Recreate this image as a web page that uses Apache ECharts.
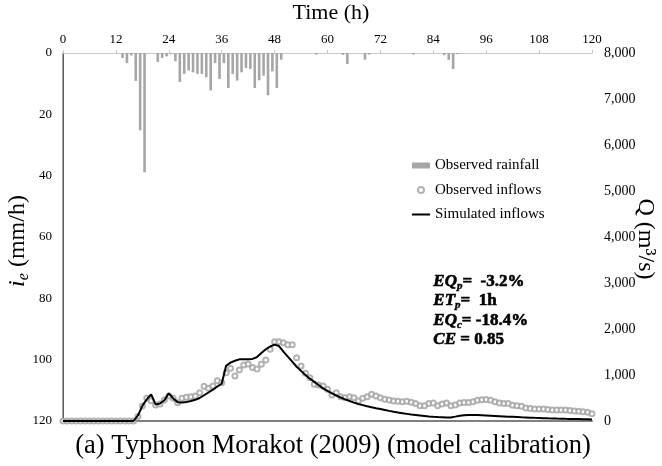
<!DOCTYPE html>
<html>
<head>
<meta charset="utf-8">
<title>Typhoon Morakot (2009) - model calibration</title>
<script src="https://cdn.jsdelivr.net/npm/echarts@6/dist/echarts.min.js"></script>
<style>
  html, body { margin: 0; padding: 0; background: #fff; }
  #chart { width: 662px; height: 466px; }
</style>
</head>
<body>
<div id="chart"></div>
<script>
// hourly rainfall (mm/h), hours 0..89, nothing after
const rainfall = [
  0, 0, 0, 0, 0, 0, 0, 0, 0, 0, 0, 0, 0, 1.6, 3.3, 0.8, 9.1, 25.2, 38.9, 0,
  0, 2.9, 1.6, 1.1, 0.4, 2.7, 9.4, 6.8, 5.7, 6.3, 6.8, 6.8, 7.9, 12.2, 3.3, 8.5, 3.3, 11.4, 6.8, 9.0,
  6.3, 4.9, 5.2, 11.4, 8.9, 7.4, 13.8, 6.0, 11.4, 2.2, 0, 0, 0, 0, 0, 0, 0, 0.5, 0, 0,
  0, 0, 0, 0.6, 3.6, 0, 0, 0, 2.2, 0.5, 0, 0, 0, 0, 0, 0, 0, 0, 0, 0.5,
  0, 0, 0, 0, 0, 0, 0.7, 2.2, 5.2, 0.4
];

// observed inflows (m3/s), hours 0..120
const observed = [
  0, 0, 0, 0, 0, 0, 0, 0, 0, 0, 0, 0, 0, 0, 0, 0, 0, 100, 326, 493,
  442, 348, 370, 457, 543, 493, 399, 493, 514, 529, 543, 616, 754, 710, 761, 877, 833, 1050, 1145, 978,
  1110, 1220, 1240, 1165, 1130, 1232, 1326, 1558, 1725, 1725, 1703, 1659, 1659, 1377, 1196, 1036, 942, 797, 783, 761,
  688, 565, 616, 529, 507, 529, 507, 435, 493, 529, 580, 543, 507, 471, 457, 435, 430, 420, 430, 410,
  380, 330, 330, 380, 390, 330, 370, 390, 330, 350, 390, 400, 400, 420, 450, 460, 470, 450, 420, 390,
  380, 380, 340, 330, 320, 280, 270, 260, 260, 260, 250, 240, 240, 240, 240, 230, 220, 210, 200, 190,
  160
];

// simulated inflows (m3/s), hours 0..120
const simulated = [
  0, 0, 0, 0, 0, 0, 0, 0, 0, 0, 0, 0, 0, 0, 0, 0, 0, 120, 330, 470,
  580, 360, 380, 450, 600, 490, 410, 400, 415, 435, 460, 500, 560, 620, 680, 750, 810, 1200, 1270, 1310,
  1340, 1345, 1345, 1350, 1390, 1480, 1560, 1620, 1660, 1630, 1510, 1400, 1290, 1180, 1090, 1000, 920, 850, 780, 710,
  655, 600, 555, 510, 470, 435, 400, 370, 345, 320, 297, 278, 260, 240, 220, 202, 185, 170, 155, 140,
  130, 120, 110, 100, 92, 85, 80, 75, 78, 95, 115, 125, 130, 130, 128, 125, 120, 115, 110, 105,
  100, 95, 90, 85, 80, 76, 72, 68, 65, 62, 58, 55, 52, 50, 47, 45, 43, 41, 39, 37,
  35
];

const timeTicks = [0, 12, 24, 36, 48, 60, 72, 84, 96, 108, 120];
const rainTicks = [0, 20, 40, 60, 80, 100, 120];
const flowTicks = [0, 1000, 2000, 3000, 4000, 5000, 6000, 7000, 8000];

// goodness-of-fit stats: symbol, subscript, value
const stats = [
  ['EQ', 'p', '=  -3.2%'],
  ['ET', 'p', '=  1h'],
  ['EQ', 'c', '= -18.4%'],
  ['CE', '', ' = 0.85']
];

const serif = '"Liberation Serif", "Times New Roman", serif';

const chart = echarts.init(document.getElementById('chart'));

const boldTok = { fill: '#000', stroke: '#000', lineWidth: 0.6 };
const statGraphics = stats.map(function (s, i) {
  let txt = '{m|' + s[0] + '}';
  if (s[1]) txt += '{s|' + s[1] + '}';
  txt += '{v|' + s[2] + '}';
  return {
    type: 'text',
    left: 433,
    top: 273 + i * 19.3,
    style: {
      text: txt,
      rich: {
        m: Object.assign({ fontFamily: serif, fontSize: 17, fontStyle: 'italic', fontWeight: 'bold', lineHeight: 20 }, boldTok),
        s: Object.assign({ fontFamily: serif, fontSize: 11, fontStyle: 'italic', fontWeight: 'bold', lineHeight: 11, verticalAlign: 'bottom' }, boldTok, { lineWidth: 0.4 }),
        v: Object.assign({ fontFamily: serif, fontSize: 17, fontWeight: 'bold', lineHeight: 20 }, boldTok)
      }
    }
  };
});

const option = {
  backgroundColor: '#fff',
  animation: false,
  grid: { left: 63, right: 70, top: 53, bottom: 45 },
  legend: {
    orient: 'vertical',
    left: 412,
    top: 158,
    padding: 0,
    itemWidth: 18,
    itemHeight: 6,
    itemGap: 9.5,
    textStyle: { fontFamily: serif, fontSize: 15, color: '#000' },
    data: [
      { name: 'Observed rainfall', icon: 'rect' },
      { name: 'Observed inflows' },
      { name: 'Simulated inflows', icon: 'path://M0,0L18,0L18,2L0,2Z' }
    ]
  },
  xAxis: [
    {
      type: 'value',
      position: 'top',
      min: 0,
      max: 120,
      interval: 12,
      axisLine: { show: true, lineStyle: { color: '#c8c8c8', width: 1 } },
      axisTick: { show: true, length: 3, lineStyle: { color: '#c8c8c8' } },
      axisLabel: {
        margin: 7,
        fontFamily: serif,
        fontSize: 13,
        color: '#000',
        customValues: timeTicks
      },
      splitLine: { show: false }
    },
    {
      type: 'value',
      position: 'bottom',
      min: 0,
      max: 120,
      interval: 12,
      axisLine: { show: true, onZero: false, lineStyle: { color: '#808080', width: 2 } },
      axisTick: { show: false },
      axisLabel: { show: false },
      splitLine: { show: false }
    }
  ],
  yAxis: [
    {
      type: 'value',
      position: 'left',
      inverse: true,
      min: 0,
      max: 120,
      interval: 20,
      axisLine: { show: true, lineStyle: { color: '#000', width: 1 } },
      axisTick: { show: false },
      axisLabel: { margin: 11, fontFamily: serif, fontSize: 13, color: '#000', customValues: rainTicks },
      splitLine: { show: false }
    },
    {
      type: 'value',
      position: 'right',
      min: 0,
      max: 8000,
      interval: 1000,
      axisLine: { show: true, lineStyle: { color: '#808080', width: 1.5 } },
      axisTick: { show: false },
      axisLabel: {
        margin: 12,
        fontFamily: serif,
        fontSize: 14,
        color: '#000',
        customValues: flowTicks,
        formatter: function (v) { return v.toLocaleString('en-US'); }
      },
      splitLine: { show: false }
    }
  ],
  series: [
    {
      name: 'Observed rainfall',
      type: 'bar',
      xAxisIndex: 0,
      yAxisIndex: 0,
      barWidth: 2.6,
      itemStyle: { color: '#a6a6a6' },
      data: rainfall.map(function (v, h) { return [h + 0.5, v]; })
    },
    {
      name: 'Observed inflows',
      type: 'scatter',
      xAxisIndex: 1,
      yAxisIndex: 1,
      symbol: 'emptyCircle',
      symbolSize: 5,
      itemStyle: { color: '#a0a0a0', borderColor: '#a0a0a0', borderWidth: 1 },
      data: observed.map(function (v, h) { return [h, v]; }),
      z: 2
    },
    {
      name: 'Simulated inflows',
      type: 'line',
      xAxisIndex: 1,
      yAxisIndex: 1,
      symbol: 'none',
      lineStyle: { color: '#000', width: 2 },
      itemStyle: { color: '#000' },
      data: simulated.map(function (v, h) { return [h, v]; }),
      z: 3
    }
  ],
  graphic: [
    {
      type: 'text',
      x: 331,
      y: 13,
      style: { text: 'Time (h)', font: '22px ' + serif, fill: '#000', align: 'center', verticalAlign: 'middle' }
    },
    {
      type: 'text',
      x: 333,
      y: 446,
      style: {
        text: '(a) Typhoon Morakot (2009) (model calibration)',
        font: '26.5px ' + serif,
        fill: '#000',
        align: 'center',
        verticalAlign: 'middle'
      }
    },
    {
      type: 'text',
      x: 18,
      y: 241,
      rotation: Math.PI / 2,
      style: {
        text: '{i|i}{s|e}{n| (mm/h)}',
        align: 'center',
        verticalAlign: 'middle',
        rich: {
          i: { font: 'italic 24px ' + serif, fill: '#000', lineHeight: 28 },
          s: { font: 'italic 16px ' + serif, fill: '#000', lineHeight: 16, verticalAlign: 'bottom' },
          n: { font: '24px ' + serif, fill: '#000', lineHeight: 28 }
        }
      }
    },
    {
      type: 'text',
      x: 645,
      y: 239,
      rotation: -Math.PI / 2,
      style: {
        text: 'Q (m³/s)',
        align: 'center',
        verticalAlign: 'middle',
        font: '24px ' + serif,
        fill: '#000'
      }
    }
  ].concat(statGraphics)
};

chart.setOption(option);
window.addEventListener('resize', function () { chart.resize(); });
</script>
</body>
</html>
